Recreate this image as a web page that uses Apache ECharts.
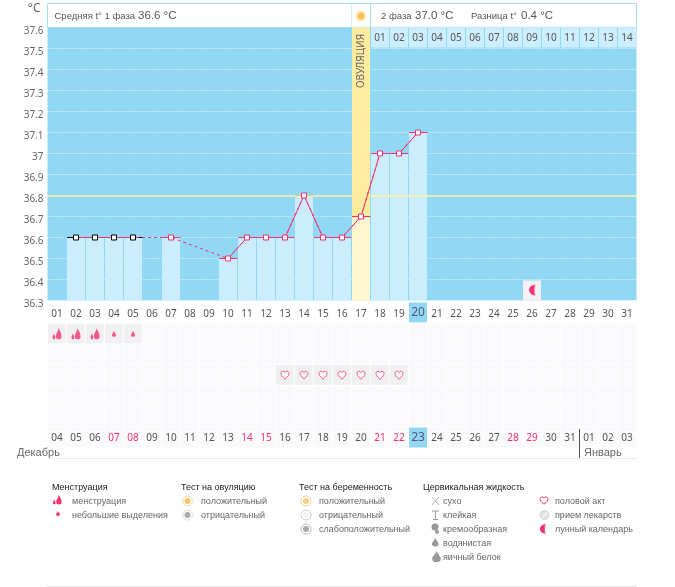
<!DOCTYPE html>
<html>
<head>
<meta charset="utf-8">
<title>График базальной температуры</title>
<script src="https://cdn.jsdelivr.net/npm/echarts@6/dist/echarts.min.js"></script>
<style>
  html, body { margin: 0; padding: 0; background: #fff; }
  #chart { width: 675px; height: 587px; }
</style>
</head>
<body>
<div id="chart"></div>
<script>
const days = ["01","02","03","04","05","06","07","08","09","10","11","12","13","14","15","16","17","18","19","20","21","22","23","24","25","26","27","28","29","30","31"];
const dates = ["04","05","06","07","08","09","10","11","12","13","14","15","16","17","18","19","20","21","22","23","24","25","26","27","28","29","30","31","01","02","03"];
const weekendDates = ["07","08","14","15","21","22","28","29"];
const phaseDays = ["01","02","03","04","05","06","07","08","09","10","11","12","13","14"];
const temps = [null,36.6,36.6,36.6,36.6,null,36.6,null,null,36.5,36.6,36.6,36.6,36.8,36.6,36.6,36.7,37,37,37.1,null,null,null,null,null,null,null,null,null,null,null];
const blackDays = [2,3,4,5];
const heavyDays = [1,2,3];
const lightDays = [4,5];
const heartDays = [13,14,15,16,17,18,19];
const moonDays = [26];
const ovulationDay = 17;
const todayDay = 20;
const todayDate = "23";
const coverLine = 36.8;
const rowNames = ["Менструация","Тест на овуляцию","Половой акт","Тест на беременность","Цервикальная жидкость","Дата"];

const legendTitles = ["Менструация","Тест на овуляцию","Тест на беременность","Цервикальная жидкость"];
const legendMens = ["менструация","небольшие выделения"];
const legendOvu = ["положительный","отрицательный"];
const legendPreg = ["положительный","отрицательный","слабоположительный"];
const legendFluid = ["сухо","клейкая","кремообразная","водянистая","яичный белок"];
const legendOther = ["половой акт","прием лекарств","лунный календарь"];

const FONT = '"Liberation Sans", sans-serif';
const NUM_FONT = '"Noto Sans", sans-serif';
const RED = "#f5316f";
const SKY = "#91d8f5";
const GREY = "#999";

const dropPath = "M5 0C6 3 9 5 9 7.2A4 2.8 0 0 1 1 7.2C1 5 4 3 5 0Z";
const heavyPath = "M6.5 0C7 2 9.5 4 9.5 7A3 3 0 0 1 3.5 8C3.5 5 6 3 6.5 0ZM1.5 5C2 6.5 3 7.5 3 9A1.5 1.5 0 0 1 0 9C0 7.5 1 6.5 1.5 5Z";
const heartPath = "M5 9C1 6 0 4 0 2.7C0 1 1.3 0 2.6 0C3.6 0 4.5 .6 5 1.6C5.5 .6 6.4 0 7.4 0C8.7 0 10 1 10 2.7C10 4 9 6 5 9Z";
const moonPath = "M8 0A7 5.5 0 1 0 8 11A12 12 0 0 1 8 0Z";
const moonFill = { type: "linear", x: 0, y: 0, x2: 1, y2: 0, colorStops: [{ offset: 0, color: RED }, { offset: 0.6, color: RED }, { offset: 1, color: "#fbb6cb" }] };

const chart = echarts.init(document.getElementById("chart"), null, { renderer: "canvas" });

function numStyle(color, top) {
  return { width: 18, height: 19, lineHeight: 19, align: "center", fontSize: 10, color: color, fontFamily: NUM_FONT, padding: [top, 0, 0, 0] };
}

const hlStyle = { width: 18, height: 20, lineHeight: 20, align: "center", fontSize: 12, color: "#557", fontFamily: NUM_FONT, backgroundColor: SKY };

// ячейки нижней таблицы
const cells = [];
rowNames.forEach((name, row) => {
  days.forEach((d, i) => {
    const marked = (row === 0 && (heavyDays.includes(i + 1) || lightDays.includes(i + 1))) ||
                   (row === 2 && heartDays.includes(i + 1));
    cells.push({ value: [i, row, 1], itemStyle: { color: marked ? "#f0eff2" : "#faf9fb" } });
  });
});

function legendText(text, x, y, title) {
  return {
    type: "text", x: x, y: y, z: 10,
    style: { text: text, fontSize: 9, fontFamily: FONT, fill: title ? "#222" : "#666", verticalAlign: "middle" }
  };
}

function icon(path, x, y, scale, fill, stroke) {
  return {
    type: "path", x: x, y: y, scaleX: scale, scaleY: scale,
    shape: { pathData: path },
    style: { fill: fill, stroke: stroke || null, lineWidth: stroke ? 1 / scale : 0 }
  };
}

function ring(cx, cy, outer, inner) {
  return [
    { type: "circle", z: 10, shape: { cx: cx, cy: cy, r: 5 }, style: { fill: "#fff", stroke: outer, lineWidth: 1 } },
    { type: "circle", z: 10, shape: { cx: cx, cy: cy, r: 3 }, style: { fill: inner } }
  ];
}

// значки легенды: path работает только внутри custom series
const legendIcons = [
  icon(heavyPath, 53, 495, 0.9, RED),
  icon(dropPath, 55.5, 511, 0.5, RED),
  icon(dropPath, 431, 538, 0.85, GREY),
  icon(dropPath, 431, 551, 1.1, GREY),
  icon(heartPath, 540, 497, 0.8, "#fff", RED),
  icon(moonPath, 539, 524, 0.9, moonFill)
];

function headerText(text, x, size) {
  return { type: "text", x: x, y: 16, z: 2, style: { text: text, fontSize: size, fontFamily: FONT, fill: "#555", verticalAlign: "middle" } };
}

function buildGraphic() {
  const g = [];
  // шапка
  g.push({ type: "rect", z: 1, shape: { x: 47.5, y: 3.5, width: 589, height: 24 }, style: { fill: "#fff", stroke: "#a6e0f8", lineWidth: 1 } });
  g.push({ type: "line", z: 1, shape: { x1: 351.5, y1: 4, x2: 351.5, y2: 27 }, style: { stroke: "#d3effb", lineWidth: 1 } });
  g.push({ type: "line", z: 1, shape: { x1: 370.5, y1: 4, x2: 370.5, y2: 27 }, style: { stroke: "#a6e0f8", lineWidth: 1 } });
  g.push({ type: "circle", z: 2, shape: { cx: 361, cy: 16, r: 5.5 }, style: { fill: "#fdeec0" } });
  g.push({ type: "circle", z: 2, shape: { cx: 361, cy: 16, r: 3.5 }, style: { fill: "#f9c05f" } });
  g.push(headerText("Средняя t° 1 фаза", 54.5, 9.5));
  g.push(headerText("36.6 °C", 138, 11.5));
  g.push(headerText("2 фаза", 381, 9.5));
  g.push(headerText("37.0 °C", 415, 11.5));
  g.push(headerText("Разница t°", 471, 9.5));
  g.push(headerText("0.4 °C", 521, 11.5));
  g.push({
    type: "text", x: 361, y: 61, rotation: Math.PI / 2, z: 10,
    style: { text: "ОВУЛЯЦИЯ", fontSize: 10, fontFamily: NUM_FONT, fill: "#666", align: "center", verticalAlign: "middle" }
  });

  // месяцы
  g.push({ type: "line", z: 1, shape: { x1: 47, y1: 458.5, x2: 637, y2: 458.5 }, style: { stroke: "#e8e8e8", lineWidth: 1 } });
  g.push({ type: "line", z: 1, shape: { x1: 47, y1: 586.5, x2: 637, y2: 586.5 }, style: { stroke: "#e8e8e8", lineWidth: 1 } });
  g.push({ type: "line", z: 10, shape: { x1: 579.5, y1: 429, x2: 579.5, y2: 458 }, style: { stroke: "#555", lineWidth: 1 } });
  g.push({ type: "text", x: 17, y: 453, z: 10, style: { text: "Декабрь", fontSize: 11, fontFamily: FONT, fill: "#666", verticalAlign: "middle" } });
  g.push({ type: "text", x: 584, y: 453, z: 10, style: { text: "Январь", fontSize: 11, fontFamily: FONT, fill: "#666", verticalAlign: "middle" } });

  // легенда
  const rowY = [501.5, 515.5, 529.5, 543.5, 557.5];
  [52, 181, 299, 423].forEach((x, i) => g.push(legendText(legendTitles[i], x, 487.5, true)));
  legendMens.forEach((t, i) => g.push(legendText(t, 72, rowY[i])));
  legendOvu.forEach((t, i) => g.push(legendText(t, 201, rowY[i])));
  legendPreg.forEach((t, i) => g.push(legendText(t, 319, rowY[i])));
  legendFluid.forEach((t, i) => g.push(legendText(t, 443, rowY[i])));
  legendOther.forEach((t, i) => g.push(legendText(t, 555, rowY[i])));

  g.push(...ring(187.5, 501, "#f5d9a0", "#f5c36e"));
  g.push(...ring(187.5, 515, "#dcdcdc", "#aaa"));
  g.push(...ring(306, 501, "#f5d08a", "#f5cf90"));
  g.push(...ring(306, 515, "#ccc", "#f4f4f4"));
  g.push(...ring(306, 529, "#bbb", "#aaa"));

  g.push({ type: "line", z: 10, shape: { x1: 432, y1: 497, x2: 439, y2: 505 }, style: { stroke: GREY, lineWidth: 0.7 } });
  g.push({ type: "line", z: 10, shape: { x1: 439, y1: 497, x2: 432, y2: 505 }, style: { stroke: GREY, lineWidth: 0.7 } });
  g.push({ type: "line", z: 10, shape: { x1: 432, y1: 511, x2: 439, y2: 511 }, style: { stroke: GREY, lineWidth: 1 } });
  g.push({ type: "line", z: 10, shape: { x1: 435.5, y1: 511, x2: 435.5, y2: 519 }, style: { stroke: GREY, lineWidth: 1 } });
  g.push({ type: "line", z: 10, shape: { x1: 433, y1: 519.5, x2: 438, y2: 519.5 }, style: { stroke: GREY, lineWidth: 1 } });
  g.push({ type: "circle", z: 10, shape: { cx: 435, cy: 527, r: 3.5 }, style: { fill: GREY } });
  g.push({ type: "circle", z: 10, shape: { cx: 437, cy: 532, r: 2 }, style: { fill: GREY } });

  g.push({ type: "circle", z: 10, shape: { cx: 544.5, cy: 515, r: 4.5 }, style: { fill: "#e4e4e4", stroke: "#ccc", lineWidth: 0.7 } });
  g.push({ type: "line", z: 11, shape: { x1: 542, y1: 518, x2: 547, y2: 512 }, style: { stroke: "#fff", lineWidth: 1 } });
  return g;
}

const option = {
  animation: false,
  backgroundColor: "#fff",
  grid: [
    { left: 47.5, top: 27.5, width: 589, height: 273, show: true, backgroundColor: SKY, borderWidth: 0, containLabel: false },
    { left: 47.5, top: 323.5, width: 589, height: 124, show: false, containLabel: false }
  ],
  xAxis: [
    {
      type: "category", gridIndex: 0, data: days,
      axisLine: { show: false }, axisTick: { show: false }, splitLine: { show: false },
      axisLabel: {
        interval: 0, margin: 2,
        rich: { n: numStyle("#555", 4), hl: hlStyle },
        formatter: function (value) {
          return value === days[todayDay - 1] ? "{hl|" + value + "}" : "{n|" + value + "}";
        }
      }
    },
    {
      type: "category", gridIndex: 1, data: dates, z: 10,
      axisLine: { show: false }, axisTick: { show: false }, splitLine: { show: false },
      axisLabel: {
        interval: 0, margin: -20,
        rich: { n: numStyle("#555", 2), w: numStyle(RED, 2), hl: hlStyle },
        formatter: function (value) {
          if (value === todayDate) return "{hl|" + value + "}";
          if (weekendDates.includes(value)) return "{w|" + value + "}";
          return "{n|" + value + "}";
        }
      }
    }
  ],
  yAxis: [
    {
      type: "value", gridIndex: 0, min: 36.3, max: 37.6, interval: 0.1,
      name: "°C", nameLocation: "end", nameGap: 13,
      nameTextStyle: { align: "right", fontSize: 12, color: "#666", fontFamily: NUM_FONT, padding: [0, 7, 0, 0] },
      axisLine: { show: false }, axisTick: { show: false },
      // подписи чуть ниже линий сетки, как в оригинале
      axisLabel: { margin: 4, fontSize: 10, color: "#666", fontFamily: NUM_FONT, verticalAlign: "top", lineHeight: 8 },
      splitLine: { show: true, lineStyle: { color: "#fff", width: 1, type: [1, 2] } }
    },
    {
      type: "category", gridIndex: 1, data: rowNames, inverse: true,
      axisLine: { show: false }, axisTick: { show: false }, axisLabel: { show: false }, splitLine: { show: false }
    }
  ],
  series: [
    {
      name: "Овуляция", type: "bar", barWidth: 18, barGap: "-100%", silent: true, z: 2,
      itemStyle: { color: "#fdec9e" },
      data: days.map((d, i) => (i + 1 === ovulationDay ? 37.6 : null))
    },
    {
      name: "Столбцы", type: "bar", barWidth: 18, barGap: "-100%", z: 2,
      data: temps.map((v, i) => ({
        value: v,
        itemStyle: { color: i + 1 === ovulationDay ? "#fef7cf" : "#cbedfe" }
      })),
      markLine: {
        silent: true, symbol: "none", label: { show: false },
        lineStyle: { color: "#fbf0a4", width: 1.5, type: "solid" },
        data: [{ yAxis: coverLine }]
      }
    },
    {
      // дни фазы 2 в шапке
      name: "Дни фазы", type: "custom", z: 3,
      data: phaseDays.map((d, i) => [ovulationDay + i, 37.6]),
      encode: { x: 0, y: 1 },
      renderItem: function (params, api) {
        const top = api.coord([api.value(0), 37.6]);
        const bottom = api.coord([api.value(0), 37.5]);
        const w = api.size([1, 0])[0];
        return {
          type: "group",
          children: [
            { type: "rect", shape: { x: top[0] - w / 2 + 0.5, y: top[1], width: w - 1, height: bottom[1] - top[1] - 1 }, style: { fill: "#cdeefe" } },
            { type: "text", x: top[0], y: (top[1] + bottom[1]) / 2, style: { text: phaseDays[params.dataIndex], fontSize: 10, fontFamily: NUM_FONT, fill: "#555", align: "center", verticalAlign: "middle" } }
          ]
        };
      }
    },
    {
      // лунный календарь
      name: "Лунный календарь", type: "custom", z: 3,
      data: moonDays.map((d) => [d - 1, 36.4]),
      encode: { x: 0, y: 1 },
      renderItem: function (params, api) {
        const top = api.coord([api.value(0), 36.4]);
        const bottom = api.coord([api.value(0), 36.3]);
        return {
          type: "group",
          children: [
            { type: "rect", shape: { x: top[0] - 9, y: top[1] + 1, width: 18, height: bottom[1] - top[1] - 1 }, style: { fill: "#f3f1f4" } },
            { type: "path", x: top[0] - 4, y: top[1] + 5, shape: { pathData: moonPath }, style: { fill: moonFill } }
          ]
        };
      }
    },
    {
      // риски у каждой точки: чёрные только снаружи ряда чёрных дней
      name: "Риски", type: "custom", z: 4,
      data: temps.map((v, i) => [i, v]).filter((p) => p[1] !== null),
      encode: { x: 0, y: 1 },
      renderItem: function (params, api) {
        const day = api.value(0) + 1;
        const p = api.coord([api.value(0), api.value(1)]);
        const isBlack = blackDays.includes(day);
        const leftBlack = isBlack && !blackDays.includes(day - 1);
        const rightBlack = isBlack && !blackDays.includes(day + 1);
        return {
          type: "group",
          children: [
            { type: "line", shape: { x1: p[0] - 9, y1: p[1], x2: p[0], y2: p[1] }, style: { stroke: leftBlack ? "#000" : RED, lineWidth: 1 } },
            { type: "line", shape: { x1: p[0], y1: p[1], x2: p[0] + 9.5, y2: p[1] }, style: { stroke: rightBlack ? "#000" : RED, lineWidth: 1 } }
          ]
        };
      }
    },
    {
      name: "Пропуски", type: "line", z: 5, data: temps, connectNulls: true,
      symbol: "none", lineStyle: { color: RED, width: 1, type: [3, 3] }
    },
    {
      name: "Температура", type: "line", z: 6, connectNulls: false,
      symbol: "rect", symbolSize: 5, showAllSymbol: true,
      lineStyle: { color: RED, width: 1 },
      data: temps.map((v, i) => ({
        value: v,
        itemStyle: { color: "#fff", borderWidth: 1, borderColor: blackDays.includes(i + 1) ? "#000" : RED }
      }))
    },
    {
      name: "Таблица", type: "heatmap", xAxisIndex: 1, yAxisIndex: 1, z: 2, silent: true,
      itemStyle: { borderColor: "#fff", borderWidth: 1 },
      data: cells
    },
    {
      name: "Менструация", type: "scatter", xAxisIndex: 1, yAxisIndex: 1, z: 4, silent: true,
      symbol: "path://" + heavyPath, symbolSize: [9, 11], itemStyle: { color: RED },
      data: heavyDays.map((d) => [d - 1, 0])
    },
    {
      name: "Небольшие выделения", type: "scatter", xAxisIndex: 1, yAxisIndex: 1, z: 4, silent: true,
      symbol: "path://" + dropPath, symbolSize: [4, 6], itemStyle: { color: RED },
      data: lightDays.map((d) => [d - 1, 0])
    },
    {
      name: "Половой акт", type: "scatter", xAxisIndex: 1, yAxisIndex: 1, z: 4, silent: true,
      symbol: "path://" + heartPath, symbolSize: [8, 8],
      itemStyle: { color: "#fff", borderColor: RED, borderWidth: 1 },
      data: heartDays.map((d) => [d - 1, 2])
    },
    {
      name: "Значки легенды", type: "custom", coordinateSystem: "none", z: 10, silent: true,
      data: [[0]],
      renderItem: function () {
        return { type: "group", children: legendIcons };
      }
    }
  ],
  graphic: buildGraphic()
};

chart.setOption(option);
</script>
</body>
</html>
